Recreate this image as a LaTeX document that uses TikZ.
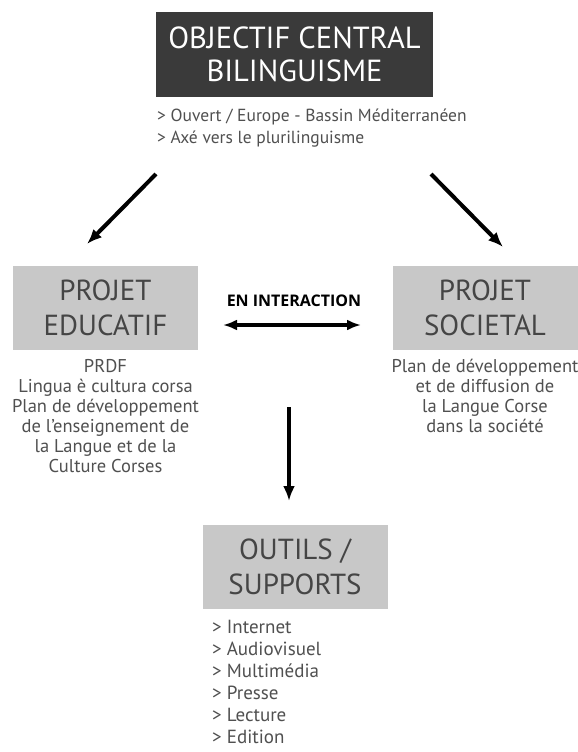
\documentclass[tikz,border=0pt]{standalone}
\usepackage{fontspec}
\setmainfont{PT Sans}
\newfontfamily\boldfont{Open Sans}
\usetikzlibrary{arrows.meta}
\definecolor{darkfill}{HTML}{3A3A3A}
\definecolor{lightfill}{HTML}{C8C8C8}
\definecolor{boxtext}{HTML}{454545}
\definecolor{desctext}{HTML}{505050}
\begin{document}
\begin{tikzpicture}[x=1pt,y=-1pt,
  darkbox/.style={fill=darkfill, text=white, minimum width=277pt, minimum height=85pt, inner sep=0pt, align=center, font=\fontsize{30.5}{33}\selectfont},
  graybox/.style={fill=lightfill, text=boxtext, minimum width=185pt, minimum height=84pt, inner sep=0pt, align=center, font=\fontsize{29}{35}\selectfont},
  desc/.style={text=desctext, align=center, inner sep=0pt, font=\fontsize{18.5}{20}\selectfont},
  bullets/.style={text=desctext, align=left, inner sep=0pt, anchor=north west},
  bigarrow/.style={line width=4pt, -{Latex[length=15pt,width=12pt]}},
  dblarrow/.style={line width=4pt, {Latex[length=14pt,width=11pt]}-{Latex[length=14pt,width=11pt]}}
]
\useasboundingbox[fill=white] (0,0) rectangle (578,752);

% boxes
\node[darkbox] (obj) at (294.5,54.5) {OBJECTIF CENTRAL\\BILINGUISME};
\node[graybox] (edu) at (105.5,308) {PROJET\\EDUCATIF};
\node[graybox] (soc) at (485,308) {PROJET\\SOCIETAL};
\node[graybox] (out) at (295,567) {OUTILS /\\SUPPORTS};

% texts
\node[bullets, font=\fontsize{17.5}{22}\selectfont] (objtxt) at (157,109) {> Ouvert / Europe - Bassin Méditerranéen\\> Axé vers le plurilinguisme};
\node[desc, anchor=north] (edutxt) at (105.5,359) {PRDF\\Lingua è cultura corsa\\Plan de développement\\de l’enseignement de\\la Langue et de la\\Culture Corses};
\node[desc, anchor=north] (soctxt) at (485,359) {Plan de développement\\et de diffusion de\\la Langue Corse\\dans la société};
\node[bullets, font=\fontsize{19}{22}\selectfont] (outtxt) at (212,620) {> Internet\\> Audiovisuel\\> Multimédia\\> Presse\\> Lecture\\> Edition};
\node[inner sep=0pt, font=\boldfont\bfseries\fontsize{16}{18}\selectfont, anchor=base] (inter) at (294,306) {EN INTERACTION};

% arrow ends
\coordinate (la1) at (156,174);
\coordinate (la2) at (87,244);
\coordinate (ra1) at (431,174);
\coordinate (ra2) at (503,247);
\coordinate (da1) at (223,325);
\coordinate (da2) at (361,325);
\coordinate (va1) at (289,407);
\coordinate (va2) at (289,501);

\draw[bigarrow] (la1) -- (la2);
\draw[bigarrow] (ra1) -- (ra2);
\draw[dblarrow] (da1) -- (da2);
\draw[bigarrow, line width=4.5pt] (va1) -- (va2);
\end{tikzpicture}
\end{document}
